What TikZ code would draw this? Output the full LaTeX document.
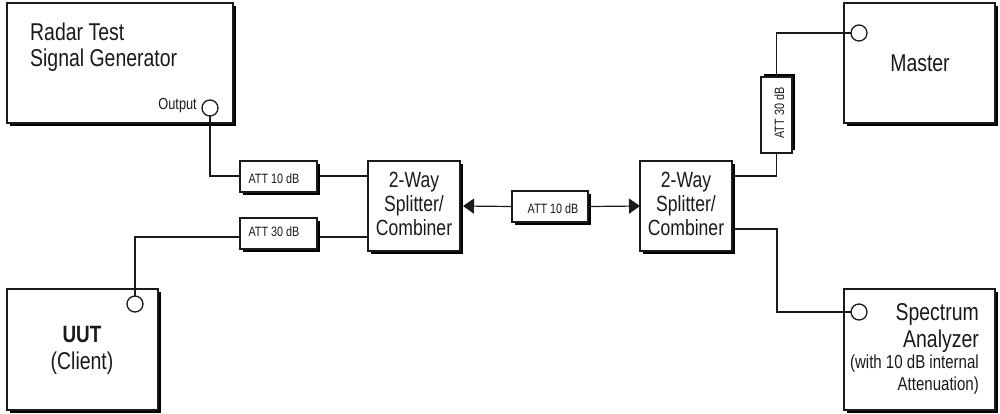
\documentclass[tikz,border=0pt]{standalone}
\usepackage{fontspec}
\setmainfont[FakeStretch=0.8]{Liberation Sans}
\usetikzlibrary{shadows,arrows.meta,calc}
\definecolor{ink}{HTML}{1A1A1A}
\tikzset{
  x=1pt,y=-1pt,
  panel/.style={draw=ink,line width=1.3pt,fill=white,inner sep=0pt,outer sep=0pt,align=center,
    general shadow={shadow xshift=3pt,shadow yshift=-3pt,fill=black}},
  upshadow/.style={draw=ink,line width=1.3pt,fill=white,inner sep=0pt,outer sep=0pt,align=center,
    general shadow={shadow xshift=3pt,shadow yshift=3pt,fill=black}},
  port/.style={circle,draw=ink,line width=1.3pt,fill=white,minimum size=16pt,inner sep=0pt,outer sep=0pt},
  wire/.style={draw=ink,line width=1.2pt},
  big/.style={font=\fontsize{24.3}{26}\selectfont,text=ink,inner sep=0pt},
  mid/.style={font=\fontsize{22}{24}\selectfont,text=ink,inner sep=0pt,align=center},
  small/.style={font=\fontsize{13.5}{14}\selectfont,text=ink,inner sep=0pt},
  note/.style={font=\fontsize{18.8}{20}\selectfont,text=ink,inner sep=0pt,anchor=base east},
}
\newcommand{\boxat}[6]{\node[#1,minimum width=#4pt,minimum height=#5pt,anchor=north west] (#6) at (#2,#3) {};}
\begin{document}
\begin{tikzpicture}
\useasboundingbox (0,0) rectangle (1000,413);
\fill[white] (0,0) rectangle (1000,413);
% main boxes
\boxat{panel}{7}{3}{226}{120}{radar}
\boxat{panel}{7}{289}{151}{121}{uut}
\boxat{panel}{844}{3}{151}{120}{master}
\boxat{panel}{844}{289}{151}{121}{spectrum}
\boxat{panel}{368}{161}{92}{90}{splitL}
\boxat{panel}{640}{161}{92}{90}{splitR}
\boxat{panel}{240}{161}{77}{31}{attA}
\boxat{panel}{240}{218}{77}{31}{attB}
\boxat{panel}{512}{191}{76}{31}{attC}
\boxat{upshadow}{761}{77}{31}{76}{attD}
% ports
\node[port] (pOut) at (210,108) {};
\node[port] (pUut) at (135,304) {};
\node[port] (pMas) at (859,33) {};
\node[port] (pSpe) at (859,312) {};
% free points on the boxes
\coordinate (aL) at (240,176);
\coordinate (aR) at (320,176);
\coordinate (bL) at (240,237);
\coordinate (bR) at (320,237);
\coordinate (sLa) at (368,176);
\coordinate (sLb) at (368,237);
\coordinate (sRa) at (735,176);
\coordinate (sRb) at (735,229);
\coordinate (run) at (777,229);
% connectors
\draw[wire] (pOut.south) |- (aL);
\draw[wire] (aR) -- (sLa);
\draw[wire] (pUut.north) |- (bL);
\draw[wire] (bR) -- (sLb);
\draw[wire] (sRa) -| (attD.south);
\draw[wire] (attD.north) |- (pMas.west);
\draw[wire] (sRb) -- (run) |- (pSpe.west);
\draw[wire,-{Triangle[length=11pt,width=15pt]}] (attC.west) -- ($(splitL.east)+(3,0)$);
\draw[wire,-{Triangle[length=11pt,width=15pt]}] (attC.east) -- (splitR.west);
% texts
\node[big,anchor=base west] (t1) at (30,40) {Radar Test};
\node[big,anchor=base west] (t2) at (30,66) {Signal Generator};
\node[font=\fontsize{16}{17}\selectfont,text=ink,inner sep=0pt,anchor=base east] (t3) at (197,109) {Output};
\node[font=\fontsize{23.6}{26}\selectfont\bfseries,text=ink,inner sep=0pt,anchor=base] (t4) at (82,342) {UUT};
\node[big,anchor=base] (t5) at (82,369) {(Client)};
\node[mid] at (414,204) {2-Way\\Splitter/\\Combiner};
\node[mid] at (686,204) {2-Way\\Splitter/\\Combiner};
\node[small,anchor=base] at (274,183) {ATT 10 dB};
\node[small,anchor=base] at (274,236) {ATT 30 dB};
\node[small,anchor=base] at (553,213) {ATT 10 dB};
\node[small,rotate=90,anchor=base] at (784,113) {ATT 30 dB};
\node[big] at (920,63) {Master};
\node[big,anchor=base east] at (979,320) {Spectrum};
\node[big,anchor=base east] at (979,347) {Analyzer};
\node[note] at (979,368) {(with 10 dB internal};
\node[note] at (979,390) {Attenuation)};
\end{tikzpicture}
\end{document}
